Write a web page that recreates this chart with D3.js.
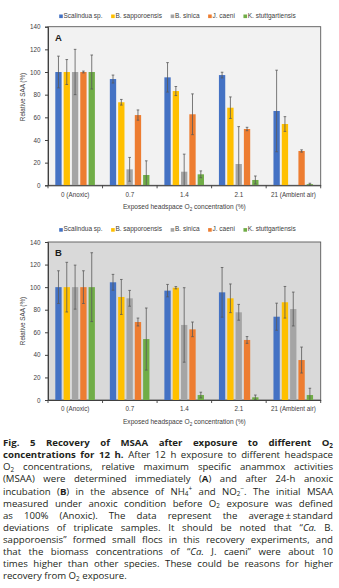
<!DOCTYPE html>
<html><head><meta charset="utf-8">
<script src="https://cdn.jsdelivr.net/npm/d3@7"></script>
<style>body{margin:0;background:#fff}svg{display:block}</style>
</head><body>
<svg id="c" width="339" height="588"></svg>
<script>
// ---------- DATA ----------
const categories = ["0 (Anoxic)", "0.7", "1.4", "2.1", "21 (Ambient air)"];
const seriesNames = ["Scalindua sp.", "B. sapporoensis", "B. sinica", "J. caeni", "K. stuttgartiensis"];
const seriesColors = ["#4472C4", "#FFC000", "#A5A5A5", "#ED7D31", "#70AD47"];
const yTicks = [0, 20, 40, 60, 80, 100, 120, 140];

// Panel A: immediately after exposure (mean, sd) per series across categories
const meanA_Scalindua = [100, 93.8, 95.3, 97.3, 65.6];
const meanA_Bsapporo  = [100, 73.3, 83.2, 68.5, 54.1];
const meanA_Bsinica   = [100, 14.1, 12.0, 18.8, 0];
const meanA_Jcaeni    = [100, 62.0, 62.7, 49.7, 30.3];
const meanA_Kstutt    = [100, 9.1, 9.7, 4.7, 1.0];
const sdA_Scalindua = [14, 3.5, 13, 2.5, 36];
const sdA_Bsapporo  = [11, 2.5, 4, 9.5, 6.5];
const sdA_Bsinica   = [20, 10.5, 15.5, 33, 0];
const sdA_Jcaeni    = [0.8, 4.5, 18, 1.5, 1];
const sdA_Kstutt    = [15, 12.5, 3, 3.5, 0.8];

// Panel B: after 24-h anoxic incubation
const meanB_Scalindua = [100, 104.3, 96.9, 95.4, 73.8];
const meanB_Bsapporo  = [100, 91.3, 99.5, 90.1, 86.6];
const meanB_Bsinica   = [100, 90.1, 66.5, 77.7, 80.6];
const meanB_Jcaeni    = [100, 69.1, 62.6, 53.2, 35.4];
const meanB_Kstutt    = [100, 54.0, 4.4, 2.4, 4.4];
const sdB_Scalindua = [14.5, 7, 5.5, 22, 12];
const sdB_Bsapporo  = [22, 15.5, 1, 12.7, 14];
const sdB_Bsinica   = [19.5, 7, 33, 7, 15];
const sdB_Jcaeni    = [14.5, 3.5, 6.5, 3, 11.5];
const sdB_Kstutt    = [30.5, 27.5, 2.5, 2, 6];

const yTitle = "Relative SAA (%)";

const captionLines = [
  "*Fig. 5 Recovery of MSAA after exposure to different O_2*",
  "*concentrations for 12 h.* After 12 h exposure to different headspace",
  "O_2 concentrations, relative maximum specific anammox activities",
  "(MSAA) were determined immediately (*A*) and after 24-h anoxic",
  "incubation (*B*) in the absence of NH_4^+ and NO_2^−. The initial MSAA",
  "measured under anoxic condition before O_2 exposure was defined",
  "as 100% (Anoxic). The data represent the average\u2009±\u2009standard",
  "deviations of triplicate samples. It should be noted that “~Ca.~ B.",
  "sapporoensis” formed small flocs in this recovery experiments, and",
  "that the biomass concentrations of “~Ca.~ J. caeni” were about 10",
  "times higher than other species. These could be reasons for higher",
  "recovery from O_2 exposure."
];

// ---------- LAYOUT ----------
const panels = [
  {label: "A", means: [meanA_Scalindua, meanA_Bsapporo, meanA_Bsinica, meanA_Jcaeni, meanA_Kstutt],
   sds: [sdA_Scalindua, sdA_Bsapporo, sdA_Bsinica, sdA_Jcaeni, sdA_Kstutt],
   yBottom: 185.3, yTop: 26.7, legendY: 15.7, bg: "#f2f2f2", yTitleY: 97},
  {label: "B", means: [meanB_Scalindua, meanB_Bsapporo, meanB_Bsinica, meanB_Jcaeni, meanB_Kstutt],
   sds: [sdB_Scalindua, sdB_Bsapporo, sdB_Bsinica, sdB_Jcaeni, sdB_Kstutt],
   yBottom: 400, yTop: 242, legendY: 229.3, bg: "#d9d9d9", yTitleY: 321}
];

const svg = d3.select("#c");
const chartFont = "'Liberation Sans', Arial, sans-serif";
const xLeft = 48, xRight = 320.7;
const x0 = d3.scaleBand().domain(categories).range([xLeft, xRight]);
const x1 = d3.scaleBand().domain(seriesNames).range([7.3, 46.9]).paddingInner(0.24);
const color = d3.scaleOrdinal().domain(seriesNames).range(seriesColors);

panels.forEach(p => {
  const y = d3.scaleLinear().domain([0, 140]).range([p.yBottom, p.yTop]);
  const g = svg.append("g").attr("font-family", chartFont);

  // plot area
  g.append("rect").attr("x", xLeft).attr("y", y(140)).attr("width", xRight - xLeft)
    .attr("height", y(0) - y(140)).attr("fill", p.bg).attr("stroke", "#595959").attr("stroke-width", 0.9);

  // bars
  const data = [];
  seriesNames.forEach((s, si) => categories.forEach((c, ci) => {
    data.push({s, c, m: p.means[si][ci], sd: p.sds[si][ci]});
  }));
  g.append("g").selectAll("rect").data(data).join("rect")
    .attr("x", d => x0(d.c) + x1(d.s)).attr("width", x1.bandwidth())
    .attr("y", d => y(d.m)).attr("height", d => y(0) - y(d.m))
    .attr("fill", d => color(d.s));

  // error bars
  const eb = g.append("g").attr("stroke", "#595959").attr("stroke-width", 0.8);
  data.filter(d => d.m > 0).forEach(d => {
    const cx = x0(d.c) + x1(d.s) + x1.bandwidth() / 2;
    const lo = Math.max(0, d.m - d.sd), hi = d.m + d.sd;
    eb.append("line").attr("x1", cx).attr("x2", cx).attr("y1", y(lo)).attr("y2", y(hi));
    eb.append("line").attr("x1", cx - 1.3).attr("x2", cx + 1.3).attr("y1", y(hi)).attr("y2", y(hi));
    if (d.m - d.sd > 0)
      eb.append("line").attr("x1", cx - 1.3).attr("x2", cx + 1.3).attr("y1", y(lo)).attr("y2", y(lo));
  });

  // y axis
  const ya = g.append("g").attr("transform", `translate(${xLeft},0)`)
    .call(d3.axisLeft(y).tickValues(yTicks).tickSize(3).tickPadding(4.5));
  ya.selectAll("path,line").attr("stroke", "#404040");
  ya.selectAll("text").attr("font-size", 6.3).attr("fill", "#404040").attr("font-family", chartFont);

  // x axis
  const xa = g.append("g").attr("transform", `translate(0,${y(0)})`)
    .call(d3.axisBottom(x0).tickSize(0).tickPadding(7));
  xa.select("path").attr("stroke", "#404040");
  xa.selectAll("text").attr("font-size", 6.3).attr("fill", "#404040").attr("font-family", chartFont);
  const bounds = categories.map(c => x0(c)).concat([x0.range()[1]]);
  g.append("g").selectAll("line").data(bounds).join("line")
    .attr("x1", d => d).attr("x2", d => d).attr("y1", y(0)).attr("y2", y(0) + 3)
    .attr("stroke", "#404040").attr("stroke-width", 0.9);

  // axis titles
  const xt = g.append("text").attr("x", (xLeft + xRight) / 2).attr("y", y(0) + 24)
    .attr("text-anchor", "middle").attr("font-size", 6.6).attr("fill", "#404040");
  xt.append("tspan").text("Exposed headspace O");
  xt.append("tspan").attr("font-size", 4.6).attr("dy", 1.6).text("2");
  xt.append("tspan").attr("dy", -1.6).text(" concentration (%)");

  g.append("text").attr("transform", `translate(25,${p.yTitleY}) rotate(-90)`)
    .attr("text-anchor", "middle").attr("font-size", 6.3).attr("fill", "#404040").text(yTitle);

  // panel label
  g.append("text").attr("x", 55).attr("y", y(140) + 14).attr("font-size", 9.5)
    .attr("font-weight", 700).attr("fill", "#1a1a1a").text(p.label);

  // legend
  const lg = g.append("g");
  const items = seriesNames.map(s => {
    const gi = lg.append("g");
    gi.append("rect").attr("width", 3.6).attr("height", 3.6).attr("y", -3.2).attr("fill", color(s));
    const t = gi.append("text").attr("x", 4.3).attr("y", 0.1).attr("font-size", 6.5)
      .attr("fill", "#404040").text(s);
    return {gi, w: 4.3 + t.node().getComputedTextLength()};
  });
  const gap = 8.6;
  const total = d3.sum(items, d => d.w) + gap * (items.length - 1);
  let lx = 177.5 - total / 2;
  items.forEach(it => { it.gi.attr("transform", `translate(${lx},${p.legendY + 2})`); lx += it.w + gap; });
});

// ---------- CAPTION ----------
const capFont = "'Open Sans', 'Noto Sans', sans-serif";
const cap = svg.append("g").attr("font-family", capFont).attr("fill", "#231f20");

function parseLine(str) {
  const words = []; let cur = []; let b = false, it = false;
  for (let k = 0; k < str.length; k++) {
    const ch = str[k];
    if (ch === '*') { b = !b; continue; }
    if (ch === '~') { it = !it; continue; }
    if (ch === ' ') { if (cur.length) { words.push(cur); cur = []; } continue; }
    let v = 0, c = ch;
    if (ch === '_') { v = 1; c = str[++k]; } else if (ch === '^') { v = -1; c = str[++k]; }
    cur.push({c, b, i: it, v});
  }
  if (cur.length) words.push(cur);
  return words.map(w => {
    const segs = [];
    w.forEach(o => {
      const l = segs[segs.length - 1];
      if (l && l.b === o.b && l.i === o.i && l.v === o.v) l.t += o.c;
      else segs.push({t: o.c, b: o.b, i: o.i, v: o.v});
    });
    return segs;
  });
}
function drawWord(segs, x, yb, fs) {
  const t = cap.append("text").attr("x", x).attr("y", yb).attr("font-size", fs);
  segs.forEach(s => {
    t.append("tspan").attr("y", yb + (s.v === 1 ? fs * 0.2 : s.v === -1 ? -fs * 0.32 : 0))
      .attr("font-size", s.v ? fs * 0.66 : fs)
      .attr("font-weight", s.b ? 700 : 400)
      .attr("font-style", s.i ? "italic" : "normal").text(s.t);
  });
  return t;
}
// fit font size to last line width
let fs = 10;
{
  const ws = parseLine(captionLines[captionLines.length - 1]).map(w => drawWord(w, 0, -50, 10));
  const tot = d3.sum(ws, t => t.node().getComputedTextLength()) + 2.6 * (ws.length - 1);
  ws.forEach(t => t.remove());
  fs = 10 * 124 / tot;
}
const capLeft = 3, capRight = 333, capY0 = 446.3, lineH = 12.05;
captionLines.forEach((line, li) => {
  const yb = capY0 + li * lineH;
  const words = parseLine(line).map(w => drawWord(w, 0, yb, fs));
  const widths = words.map(t => t.node().getComputedTextLength());
  const sum = d3.sum(widths);
  const last = li === captionLines.length - 1;
  const gapW = last ? fs * 0.26 : (capRight - capLeft - sum) / (words.length - 1);
  let x = capLeft;
  words.forEach((t, k) => { t.attr("x", x); x += widths[k] + gapW; });
});
</script>
</body></html>
